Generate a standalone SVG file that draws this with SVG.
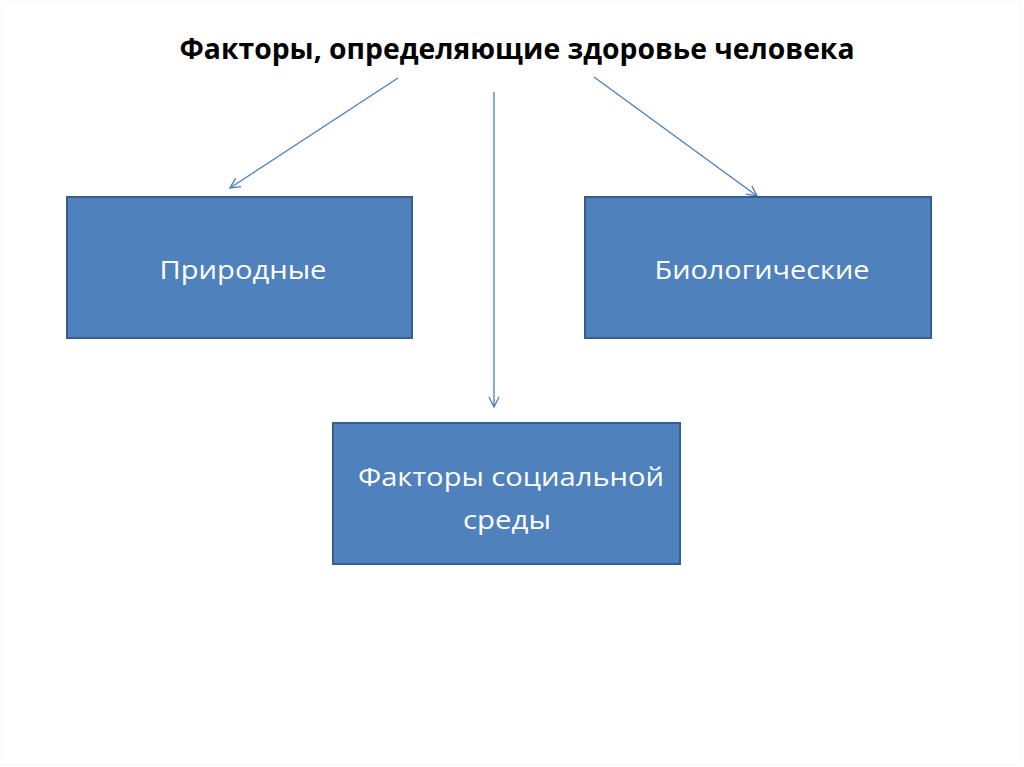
<svg xmlns="http://www.w3.org/2000/svg" width="1024" height="767" viewBox="0 0 1024 767">
<style>
.box{fill:#4F81BD;stroke:#385D8A;stroke-width:2}
.lbl{font-family:"Open Sans","Noto Sans","Liberation Sans",sans-serif;font-size:26px;fill:#FFFFFF;text-anchor:middle}
.title{font-family:"Open Sans","Noto Sans","Liberation Sans",sans-serif;font-weight:bold;font-size:28px;fill:#000000;text-anchor:middle}
.conn{stroke:#4A7EBB;stroke-width:1.3;fill:none;marker-end:url(#arr)}
</style>
<defs>
<marker id="arr" viewBox="0 0 12 12" refX="11" refY="6" markerWidth="12" markerHeight="12" markerUnits="userSpaceOnUse" orient="auto">
<path d="M1,1 L11,6 L1,11" fill="none" stroke="#4A7EBB" stroke-width="1.3"/>
</marker>
</defs>
<rect x="0" y="0" width="1024" height="767" fill="#FFFFFF"/>
<rect x="2.5" y="1.5" width="1018" height="763" fill="none" stroke="#F7F7F7" stroke-width="1"/>
<g id="title">
<text class="title" x="517" y="59" textLength="675" lengthAdjust="spacingAndGlyphs">Факторы, определяющие здоровье человека</text>
</g>
<g id="connectors">
<line class="conn" x1="398" y1="78" x2="230" y2="188"/>
<line class="conn" x1="494" y1="92" x2="494" y2="407"/>
<line class="conn" x1="594" y1="77" x2="757" y2="196"/>
</g>
<g id="node-prirodnye">
<rect class="box" x="67" y="197" width="345" height="141"/>
<text class="lbl" x="243" y="279" textLength="167" lengthAdjust="spacingAndGlyphs">Природные</text>
</g>
<g id="node-biologicheskie">
<rect class="box" x="585" y="197" width="346" height="141"/>
<text class="lbl" x="762" y="279" textLength="215" lengthAdjust="spacingAndGlyphs">Биологические</text>
</g>
<g id="node-social">
<rect class="box" x="333" y="423" width="347" height="141"/>
<text class="lbl" x="511" y="486" textLength="306" lengthAdjust="spacingAndGlyphs">Факторы социальной</text>
<text class="lbl" x="507" y="529" textLength="88" lengthAdjust="spacingAndGlyphs">среды</text>
</g>
</svg>
